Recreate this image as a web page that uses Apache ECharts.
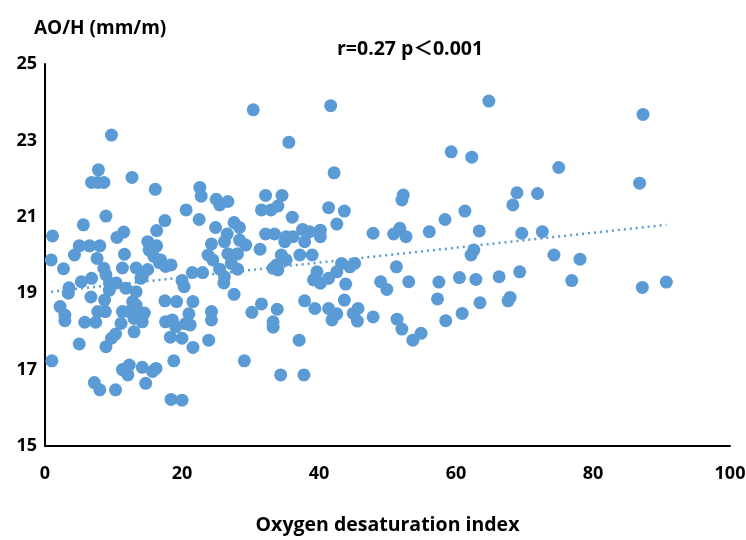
<!DOCTYPE html>
<html>
<head>
<meta charset="utf-8">
<title>AO/H vs ODI</title>
<script src="https://cdn.jsdelivr.net/npm/echarts@6/dist/echarts.min.js"></script>
<style>
  html, body { margin: 0; padding: 0; background: #fff; }
  #chart { width: 746px; height: 540px; }
</style>
</head>
<body>
<div id="chart"></div>
<script>
// x = oxygen desaturation index, y = AO/H (mm/m)
const samples = [
  [9.7, 23.14], [7.8, 22.23], [6.8, 21.9], [7.7, 21.9], [8.6, 21.9], [12.7, 22.03],
  [16.1, 21.72], [20.6, 21.18], [8.9, 21.02], [17.5, 20.9], [5.6, 20.79], [11.5, 20.6],
  [16.3, 20.64], [1.1, 20.5], [10.5, 20.46], [5.0, 20.24], [6.5, 20.24], [8.0, 20.24],
  [15.0, 20.35], [16.3, 20.24], [4.3, 20.0], [0.9, 19.87], [7.6, 19.91], [11.6, 20.02],
  [2.7, 19.64], [8.6, 19.65], [11.3, 19.66], [13.3, 19.66], [15.0, 19.62], [15.2, 20.13],
  [15.9, 19.96], [16.9, 19.87], [8.9, 19.48], [14.2, 19.43], [16.7, 19.8], [17.6, 19.7],
  [18.4, 19.74], [5.3, 19.3], [6.8, 19.39], [3.5, 19.14], [3.4, 19.0], [9.4, 19.27],
  [10.4, 19.27], [9.4, 19.08], [11.8, 19.13], [13.3, 19.04], [14.0, 19.39], [20.0, 19.33],
  [20.3, 19.17], [6.7, 18.9], [8.7, 18.82], [12.8, 18.78], [13.3, 18.69], [17.5, 18.8],
  [19.2, 18.78], [2.2, 18.65], [2.9, 18.43], [2.9, 18.28], [7.7, 18.52], [8.8, 18.52],
  [11.3, 18.52], [12.3, 18.52], [13.3, 18.48], [14.5, 18.48], [13.0, 18.34], [14.2, 18.25],
  [5.8, 18.24], [7.4, 18.24], [11.1, 18.21], [17.6, 18.25], [18.6, 18.3], [19.1, 18.12],
  [20.5, 18.2], [10.3, 17.93], [9.7, 17.82], [8.9, 17.6], [13.0, 17.99], [5.0, 17.67],
  [18.3, 17.85], [20.0, 17.82], [1.0, 17.23], [18.8, 17.23], [11.3, 17.0], [12.3, 17.12],
  [12.1, 16.86], [14.2, 17.06], [15.7, 16.95], [16.2, 17.03], [14.7, 16.64], [7.2, 16.66],
  [8.0, 16.47], [10.3, 16.47], [18.4, 16.22], [20.0, 16.2]
]
const samplesMid = [
  [30.4, 23.8], [41.7, 23.91], [35.6, 22.95], [42.2, 22.15], [22.6, 21.77], [22.8, 21.54],
  [25.0, 21.46], [25.5, 21.31], [26.7, 21.4], [32.2, 21.56], [34.6, 21.56], [31.6, 21.18],
  [33.0, 21.18], [34.0, 21.28], [36.1, 20.99], [41.4, 21.24], [43.7, 21.15], [42.6, 20.81],
  [22.5, 20.93], [24.9, 20.72], [27.6, 20.85], [28.4, 20.72], [26.6, 20.55], [26.2, 20.35],
  [24.3, 20.29], [28.4, 20.39], [29.3, 20.26], [32.2, 20.55], [33.5, 20.55], [31.4, 20.15],
  [35.2, 20.48], [36.2, 20.48], [35.0, 20.35], [37.6, 20.67], [38.6, 20.61], [40.2, 20.65],
  [40.2, 20.48], [37.9, 20.35], [23.8, 20.0], [24.5, 19.87], [26.7, 20.03], [28.1, 20.03],
  [27.2, 19.78], [28.1, 19.63], [25.5, 19.63], [26.2, 19.43], [26.1, 19.27], [21.5, 19.54],
  [23.0, 19.54], [34.5, 20.0], [33.8, 19.74], [34.0, 19.61], [35.2, 19.87], [33.3, 19.65],
  [37.2, 20.0], [39.0, 20.0], [43.3, 19.78], [42.6, 19.56], [41.4, 19.39], [39.7, 19.56],
  [39.2, 19.35], [40.2, 19.26], [27.6, 18.97], [21.6, 18.78], [24.3, 18.52], [24.3, 18.3],
  [21.0, 18.46], [21.2, 18.17], [31.6, 18.72], [30.2, 18.5], [33.9, 18.58], [33.3, 18.25],
  [33.3, 18.11], [37.9, 18.8], [39.4, 18.6], [41.4, 18.6], [42.6, 18.46], [41.9, 18.3],
  [43.7, 18.82], [21.6, 17.58], [23.9, 17.77], [37.1, 17.77], [29.1, 17.23], [34.4, 16.86],
  [37.8, 16.86], [44.5, 19.69]
]
const samplesHigh = [
  [59.3, 22.7], [62.3, 22.56], [52.3, 21.57], [52.1, 21.44], [68.9, 21.63], [68.3, 21.31],
  [61.3, 21.15], [58.4, 20.93], [47.9, 20.57], [50.9, 20.55], [51.8, 20.7], [52.7, 20.48],
  [56.1, 20.61], [63.4, 20.63], [62.6, 20.13], [62.2, 20.0], [45.2, 19.78], [51.3, 19.69],
  [43.9, 19.24], [49.0, 19.3], [49.9, 19.1], [53.1, 19.3], [57.5, 19.29], [60.5, 19.41],
  [62.9, 19.36], [66.3, 19.43], [69.3, 19.56], [45.7, 18.6], [45.0, 18.47], [45.6, 18.27],
  [47.9, 18.38], [51.4, 18.32], [52.1, 18.06], [54.9, 17.95], [53.7, 17.77], [57.3, 18.85],
  [58.5, 18.28], [60.9, 18.47], [63.5, 18.75], [67.6, 18.8], [67.9, 18.89], [87.3, 23.68],
  [75.0, 22.29], [86.8, 21.88], [71.9, 21.61], [69.6, 20.57], [72.6, 20.61], [74.3, 20.0],
  [78.1, 19.89], [76.9, 19.33], [87.2, 19.15], [90.7, 19.29], [64.8, 24.03]
]

// dotted linear trend line, end points
const trendLine = [[0.9, 19.04], [90.7, 20.79]]

const xTicks = { min: 0, max: 100, interval: 20 }
const yTicks = { min: 15, max: 25, interval: 2 }

const yTitle = 'AO/H (mm/m)'
const xTitle = 'Oxygen desaturation index'
const statText = 'r=0.27 p＜0.001'

const font = '"Open Sans", "Noto Sans CJK SC", sans-serif'
const blue = '#5b9bd5'

const chart = echarts.init(document.getElementById('chart'))

chart.setOption({
  animation: false,
  title: [
    {
      text: yTitle,
      left: 29,
      top: 14,
      textStyle: { fontFamily: font, fontSize: 19, fontWeight: 'bold', color: '#000' }
    },
    {
      text: statText,
      left: 332,
      top: 35,
      textStyle: { fontFamily: font, fontSize: 19.5, fontWeight: 'bold', color: '#000' }
    }
  ],
  grid: { left: 45, right: 16, top: 64, bottom: 94, outerBoundsMode: 'none' },
  xAxis: {
    type: 'value',
    min: xTicks.min,
    max: xTicks.max,
    interval: xTicks.interval,
    name: xTitle,
    nameLocation: 'middle',
    nameGap: 70,
    nameTextStyle: { fontFamily: font, fontSize: 19.5, fontWeight: 'bold', color: '#000' },
    axisLine: { lineStyle: { color: '#000', width: 2 } },
    axisTick: { show: false },
    splitLine: { show: false },
    axisLabel: { fontFamily: font, fontSize: 18, fontWeight: 'bold', color: '#000', margin: 19 }
  },
  yAxis: {
    type: 'value',
    min: yTicks.min,
    max: yTicks.max,
    interval: yTicks.interval,
    axisLine: { show: true, lineStyle: { color: '#000', width: 2 } },
    axisTick: { show: false },
    splitLine: { show: false },
    axisLabel: { fontFamily: font, fontSize: 18, fontWeight: 'bold', color: '#000', margin: 8 }
  },
  series: [
    {
      type: 'scatter',
      data: samples.concat(samplesMid, samplesHigh),
      symbolSize: 13,
      itemStyle: { color: blue, opacity: 1 }
    },
    {
      type: 'line',
      data: trendLine,
      symbol: 'none',
      z: 3,
      lineStyle: { color: blue, width: 2.5, type: [2, 4] }
    }
  ]
})
</script>
</body>
</html>
